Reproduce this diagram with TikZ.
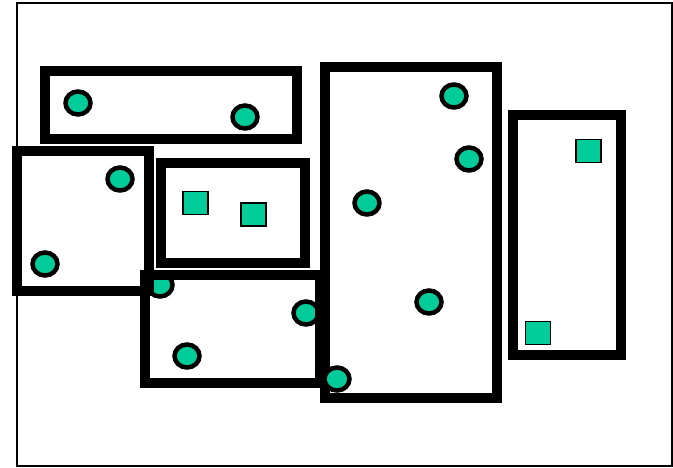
\documentclass[tikz,border=0pt]{standalone}
\usepackage{xcolor}
\usepackage{tikz}
\usetikzlibrary{shapes.geometric}

\definecolor{dotgreen}{RGB}{0,204,153}

\begin{document}
\begin{tikzpicture}[
    x=1pt, y=-1pt,
    zone/.style={draw, line width=10pt, inner sep=0pt, outer sep=0pt},
    dot/.style={ellipse, draw, fill=dotgreen, line width=4.5pt, minimum width=25pt, minimum height=23pt, inner sep=0pt},
    tile/.style={rectangle, draw, fill=dotgreen, line width=1.5pt, minimum width=25pt, minimum height=23pt, inner sep=0pt},
  ]

  \useasboundingbox (0,0) rectangle (673,467);

  % Frame
  \node[draw, line width=1.5pt, minimum width=655pt, minimum height=463pt, inner sep=0pt] (frame) at (344.5,234.5) {};

  % Dots under the lower middle box
  \node[dot] (d1) at (160,285) {};
  \node[dot] (d2) at (306,313) {};
  \node[dot] (d3) at (187,356) {};

  % Boxes
  \node[zone, minimum width=252pt, minimum height=68pt] (top) at (171,105) {};
  \node[zone, minimum width=132pt, minimum height=140pt] (left) at (83,221) {};
  \node[zone, minimum width=144pt, minimum height=100pt] (mid) at (233,213) {};
  \node[zone, minimum width=175pt, minimum height=108pt] (low) at (232.5,329) {};
  \node[zone, minimum width=172pt, minimum height=331pt] (big) at (411,232.75) {};
  \node[zone, minimum width=108pt, minimum height=240pt] (right) at (567,235) {};

  % Dots
  \node[dot] (t1) at (78,103) {};
  \node[dot] (t2) at (245,117) {};
  \node[dot] (l1) at (120,179) {};
  \node[dot] (l2) at (45,264) {};
  \node[dot] (b1) at (454,96) {};
  \node[dot] (b2) at (469,159) {};
  \node[dot] (b3) at (367,203) {};
  \node[dot] (b4) at (429,302) {};
  \node[dot] (b5) at (337,379) {};

  % Tiles
  \node[tile] (m1) at (195.5,203) {};
  \node[tile] (m2) at (253.5,214.5) {};
  \node[tile] (r1) at (588.5,151) {};
  \node[tile] (r2) at (538,333) {};

\end{tikzpicture}
\end{document}
